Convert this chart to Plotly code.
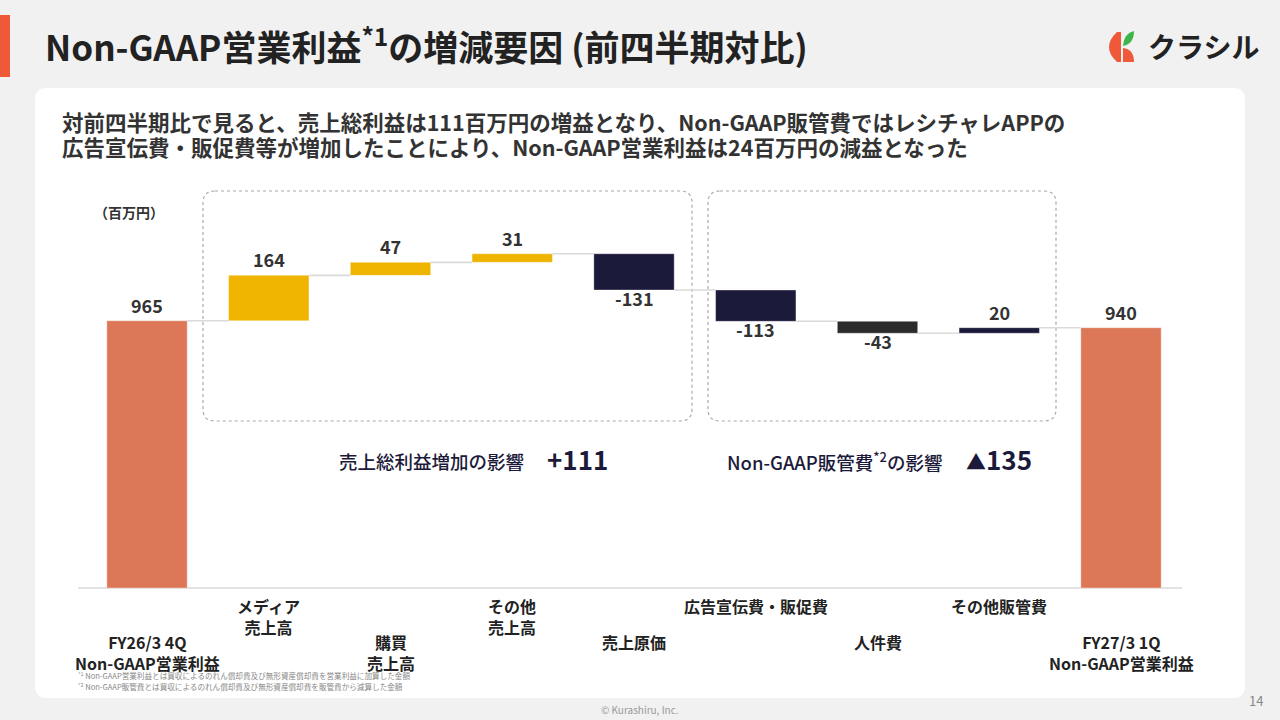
import plotly.graph_objects as go

# data (百万円)
categories = [
    "FY26/3 4Q<br>Non-GAAP営業利益",
    "メディア<br>売上高",
    "購買<br>売上高",
    "その他<br>売上高",
    "売上原価",
    "広告宣伝費・販促費",
    "人件費",
    "その他販管費",
    "FY27/3 1Q<br>Non-GAAP営業利益",
]
values = [965, 164, 47, 31, -131, -113, -43, 20, 940]
is_total = [True, False, False, False, False, False, False, False, True]
bar_colors = ["#DC7858", "#EFB400", "#EFB400", "#EFB400", "#1C1A3A",
              "#1C1A3A", "#2B2B2B", "#1C1A3A", "#DC7858"]

W, H = 1280, 720
FONT = "Noto Sans CJK JP"


def px(x):
    return x / W


def py(y):
    return 1 - y / H


def rrect(x0, y0, x1, y1, r):
    # rounded rectangle in pixel coords -> path in paper coords
    pts = [
        ("M", x0 + r, y0), ("L", x1 - r, y0), ("Q", x1, y0, x1, y0 + r),
        ("L", x1, y1 - r), ("Q", x1, y1, x1 - r, y1),
        ("L", x0 + r, y1), ("Q", x0, y1, x0, y1 - r),
        ("L", x0, y0 + r), ("Q", x0, y0, x0 + r, y0),
    ]
    out = []
    for p in pts:
        cmd, nums = p[0], p[1:]
        coords = []
        for i in range(0, len(nums), 2):
            coords.append(f"{px(nums[i]):.5f},{py(nums[i + 1]):.5f}")
        out.append(cmd + " " + " ".join(coords))
    return " ".join(out) + " Z"


# waterfall bases
bases, heights, ends = [], [], []
running = 0
for v, t in zip(values, is_total):
    if t:
        bases.append(0)
        heights.append(v)
        running = v
    else:
        bases.append(running)
        heights.append(v)
        running += v
    ends.append(running)

xs = list(range(len(categories)))
bar_w = 0.66

fig = go.Figure()

# connectors
cx, cy = [], []
for i in range(len(xs) - 1):
    cx += [xs[i] + bar_w / 2, xs[i + 1] - bar_w / 2, None]
    cy += [ends[i], ends[i], None]
fig.add_trace(go.Scatter(x=cx, y=cy, mode="lines", line=dict(color="#DADADA", width=1.6),
                         hoverinfo="skip", showlegend=False))

fig.add_trace(go.Bar(
    x=xs, y=heights, base=bases, width=bar_w,
    marker=dict(color=bar_colors, line=dict(color="rgba(255,255,255,0.35)", width=1)),
    hoverinfo="skip", showlegend=False,
))

fig.update_layout(
    width=W, height=H,
    margin=dict(l=0, r=0, t=0, b=0),
    paper_bgcolor="#F1F1F1", plot_bgcolor="rgba(0,0,0,0)",
    font=dict(family=FONT, color="#222222"),
    xaxis=dict(domain=[px(78), px(1182)], range=[-0.567, 8.501], showticklabels=False,
               showgrid=False, zeroline=False, showline=False, fixedrange=True),
    yaxis=dict(domain=[py(588), py(228)], range=[0, 1300], visible=False, fixedrange=True),
    bargap=0.34,
)

shapes = [
    dict(type="path", path=rrect(35, 88, 1245, 698, 12), xref="paper", yref="paper",
         fillcolor="white", line=dict(width=0), layer="below"),
    dict(type="rect", xref="paper", yref="paper", x0=0, x1=px(10), y0=py(15), y1=py(77),
         fillcolor="#F0583A", line=dict(width=0), layer="below"),
    dict(type="path", path=rrect(203, 191, 692, 421, 12), xref="paper", yref="paper",
         line=dict(color="#A8A8A8", width=1.2, dash="dot"), layer="below"),
    dict(type="path", path=rrect(708, 191, 1056, 421, 12), xref="paper", yref="paper",
         line=dict(color="#A8A8A8", width=1.2, dash="dot"), layer="below"),
    # axis baseline
    dict(type="line", xref="paper", yref="paper", x0=px(78), x1=px(1182), y0=py(588), y1=py(588),
         line=dict(color="#DADADA", width=1.5), layer="below"),
    # logo icon
    dict(type="path", xref="paper", yref="paper",
         path=f"M {px(1117)},{py(32)} Q {px(1101)},{py(47)} {px(1117)},{py(62)} "
              f"L {px(1121)},{py(62)} L {px(1121)},{py(32)} Z",
         fillcolor="#F0583A", line=dict(width=0)),
    dict(type="path", xref="paper", yref="paper",
         path=f"M {px(1123)},{py(46)} Q {px(1124)},{py(33)} {px(1134)},{py(31)} "
              f"Q {px(1134)},{py(44)} {px(1123)},{py(46)} Z",
         fillcolor="#3DB54A", line=dict(width=0)),
    dict(type="path", xref="paper", yref="paper",
         path=f"M {px(1123)},{py(48)} Q {px(1134)},{py(49)} {px(1134)},{py(62)} "
              f"L {px(1123)},{py(62)} Z",
         fillcolor="#F0583A", line=dict(width=0)),
]
fig.update_layout(shapes=shapes)

ann = []


def text(x, y, s, size, color="#222222", weight="normal", xanchor="left", yanchor="middle",
         xref="paper", yref="paper", yshift=0):
    ann.append(dict(x=x, y=y, xref=xref, yref=yref, text=s, showarrow=False,
                    xanchor=xanchor, yanchor=yanchor, align="center", yshift=yshift,
                    font=dict(family=FONT, size=size, color=color, weight=weight)))


# bar value labels: above rising/total bars, below falling bars
for i, v in enumerate(values):
    if v >= 0:
        text(xs[i], bases[i] + heights[i], str(v), 18, "#333333", "bold", xanchor="center",
             yanchor="bottom", xref="x", yref="y", yshift=1)
    else:
        text(xs[i], bases[i] + heights[i], str(v), 18, "#333333", "bold", xanchor="center",
             yanchor="top", xref="x", yref="y", yshift=7)

text(px(43), py(44), "Non-GAAP営業利益<sup>*1</sup>の増減要因 (前四半期対比)", 35, "#222222", "bold")
text(px(1146), py(46), "クラシル", 28, "#222222", "bold")
text(px(60), py(121), "対前四半期比で見ると、売上総利益は111百万円の増益となり、Non-GAAP販管費ではレシチャレAPPの",
     21.5, "#333333", "bold")
text(px(60), py(147), "広告宣伝費・販促費等が増加したことにより、Non-GAAP営業利益は24百万円の減益となった",
     21.5, "#333333", "bold")
text(px(92), py(212), "（百万円）", 14, "#333333", "bold")

text(px(526), py(461), "売上総利益増加の影響", 18.5, "#1C1A3A", 500, xanchor="right")
text(px(545), py(458), "+111", 26, "#1C1A3A", "bold")
text(px(945), py(461), "Non-GAAP販管費<sup>*2</sup>の影響", 18.5, "#1C1A3A", 500, xanchor="right")
text(px(964), py(458), "<span style='font-size:20px'>▲</span>135", 26, "#1C1A3A", "bold")

# category labels, staggered in two rows
for i, c in enumerate(categories):
    y_top = 592 if i % 2 == 1 else 628
    text(xs[i], py(y_top), c, 16, "#222222", "bold", xanchor="center", yanchor="top", xref="x")

text(px(76), py(675), "<sup>*1</sup> Non-GAAP営業利益とは買収によるのれん償却費及び無形資産償却費を営業利益に加算した金額",
     7.6, "#888888")
text(px(76), py(686), "<sup>*2</sup> Non-GAAP販管費とは買収によるのれん償却費及び無形資産償却費を販管費から減算した金額",
     7.6, "#888888")
text(px(640), py(709), "© Kurashiru, Inc.", 10, "#999999", xanchor="center")
text(px(1265), py(700), "14", 13, "#888888", xanchor="right")

fig.update_layout(annotations=ann)

fig.write_html("out.html", config={"displayModeBar": False},
               post_script="document.body.style.margin='0';document.body.style.background='#F1F1F1';")
